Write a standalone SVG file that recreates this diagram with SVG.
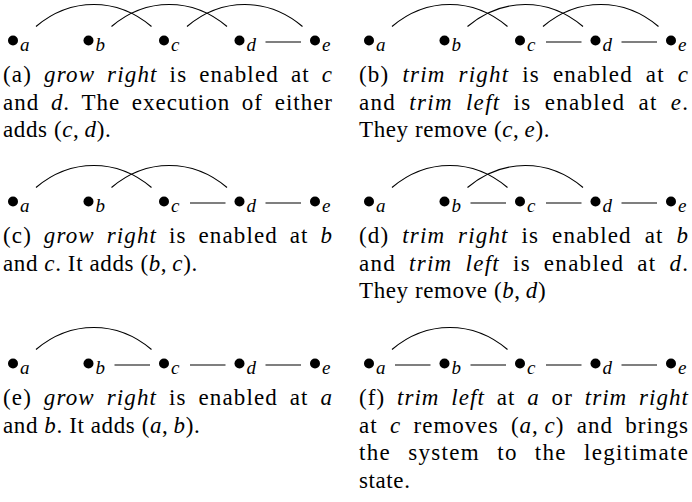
<svg xmlns="http://www.w3.org/2000/svg" width="692" height="502" viewBox="0 0 692 502">
<style>
.dot{fill:#000}
.sub{font-family:"Liberation Serif",serif;font-style:italic;font-size:19px;fill:#000}
.cap{font-family:"Liberation Serif",serif;font-size:23px;fill:#000}
.lst{letter-spacing:0.6px}
.i{font-style:italic}
.e{fill:none;stroke:#000;stroke-width:1.1}
</style>
<defs>
<path id="arcAC" d="M36 -14 C70.6 -43.3 116.9 -43.3 151.5 -14"/>
<path id="arcBD" d="M111.5 -14 C146.1 -43.3 192.4 -43.3 227 -14"/>
<path id="arcCE" d="M187 -14 C221.6 -43.3 267.9 -43.3 302.5 -14"/>
<path id="segAB" d="M39 1.5 H74.5"/>
<path id="segBC" d="M114.5 1.5 H150"/>
<path id="segCD" d="M190 1.5 H225.5"/>
<path id="segDE" d="M265.5 1.5 H301"/>
</defs>

<!-- panel (a) -->
<g id="panel-a" transform="translate(0,40.5)">
<g id="connectors-a" class="e"><use href="#arcAC"/><use href="#arcBD"/><use href="#arcCE"/><use href="#segDE"/></g>
<g id="a-a" transform="translate(13,0)"><circle class="dot" r="5"/><text class="sub" x="7" y="10">a</text></g>
<g id="a-b" transform="translate(88.5,0)"><circle class="dot" r="5"/><text class="sub" x="7" y="10">b</text></g>
<g id="a-c" transform="translate(164,0)"><circle class="dot" r="5"/><text class="sub" x="7" y="10">c</text></g>
<g id="a-d" transform="translate(239.5,0)"><circle class="dot" r="5"/><text class="sub" x="7" y="10">d</text></g>
<g id="a-e" transform="translate(315,0)"><circle class="dot" r="5"/><text class="sub" x="7" y="10">e</text></g>
<text class="cap" x="3" y="41.3" word-spacing="5" textLength="329">(a) <tspan class="i">grow right</tspan> is enabled at <tspan class="i">c</tspan></text>
<text class="cap" x="3" y="69.1" word-spacing="5" textLength="329">and <tspan class="i">d</tspan>. The execution of either</text>
<text class="cap lst" x="3" y="96.9">adds (<tspan class="i">c</tspan>,&#8201;<tspan class="i">d</tspan>).</text>
</g>

<!-- panel (b) -->
<g id="panel-b" transform="translate(356,40.5)">
<g id="connectors-b" class="e"><use href="#arcAC"/><use href="#arcBD"/><use href="#arcCE"/><use href="#segCD"/><use href="#segDE"/></g>
<g id="b-a" transform="translate(13,0)"><circle class="dot" r="5"/><text class="sub" x="7" y="10">a</text></g>
<g id="b-b" transform="translate(88.5,0)"><circle class="dot" r="5"/><text class="sub" x="7" y="10">b</text></g>
<g id="b-c" transform="translate(164,0)"><circle class="dot" r="5"/><text class="sub" x="7" y="10">c</text></g>
<g id="b-d" transform="translate(239.5,0)"><circle class="dot" r="5"/><text class="sub" x="7" y="10">d</text></g>
<g id="b-e" transform="translate(315,0)"><circle class="dot" r="5"/><text class="sub" x="7" y="10">e</text></g>
<text class="cap" x="3" y="41.3" word-spacing="6" textLength="329">(b) <tspan class="i">trim right</tspan> is enabled at <tspan class="i">c</tspan></text>
<text class="cap" x="3" y="69.1" word-spacing="6" textLength="329">and <tspan class="i">trim left</tspan> is enabled at <tspan class="i">e</tspan>.</text>
<text class="cap lst" x="3" y="96.9">They remove (<tspan class="i">c</tspan>,&#8201;<tspan class="i">e</tspan>).</text>
</g>

<!-- panel (c) -->
<g id="panel-c" transform="translate(0,201.5)">
<g id="connectors-c" class="e"><use href="#arcAC"/><use href="#arcBD"/><use href="#segCD"/><use href="#segDE"/></g>
<g id="c-a" transform="translate(13,0)"><circle class="dot" r="5"/><text class="sub" x="7" y="10">a</text></g>
<g id="c-b" transform="translate(88.5,0)"><circle class="dot" r="5"/><text class="sub" x="7" y="10">b</text></g>
<g id="c-c" transform="translate(164,0)"><circle class="dot" r="5"/><text class="sub" x="7" y="10">c</text></g>
<g id="c-d" transform="translate(239.5,0)"><circle class="dot" r="5"/><text class="sub" x="7" y="10">d</text></g>
<g id="c-e" transform="translate(315,0)"><circle class="dot" r="5"/><text class="sub" x="7" y="10">e</text></g>
<text class="cap" x="3" y="41.3" word-spacing="5" textLength="329">(c) <tspan class="i">grow right</tspan> is enabled at <tspan class="i">b</tspan></text>
<text class="cap lst" x="3" y="69.1">and <tspan class="i">c</tspan>. It adds (<tspan class="i">b</tspan>,&#8201;<tspan class="i">c</tspan>).</text>
</g>

<!-- panel (d) -->
<g id="panel-d" transform="translate(356,201.5)">
<g id="connectors-d" class="e"><use href="#arcAC"/><use href="#arcBD"/><use href="#segBC"/><use href="#segCD"/><use href="#segDE"/></g>
<g id="d-a" transform="translate(13,0)"><circle class="dot" r="5"/><text class="sub" x="7" y="10">a</text></g>
<g id="d-b" transform="translate(88.5,0)"><circle class="dot" r="5"/><text class="sub" x="7" y="10">b</text></g>
<g id="d-c" transform="translate(164,0)"><circle class="dot" r="5"/><text class="sub" x="7" y="10">c</text></g>
<g id="d-d" transform="translate(239.5,0)"><circle class="dot" r="5"/><text class="sub" x="7" y="10">d</text></g>
<g id="d-e" transform="translate(315,0)"><circle class="dot" r="5"/><text class="sub" x="7" y="10">e</text></g>
<text class="cap" x="3" y="41.3" word-spacing="6" textLength="329">(d) <tspan class="i">trim right</tspan> is enabled at <tspan class="i">b</tspan></text>
<text class="cap" x="3" y="69.1" word-spacing="6" textLength="329">and <tspan class="i">trim left</tspan> is enabled at <tspan class="i">d</tspan>.</text>
<text class="cap lst" x="3" y="96.9">They remove (<tspan class="i">b</tspan>,&#8201;<tspan class="i">d</tspan>)</text>
</g>

<!-- panel (e) -->
<g id="panel-e" transform="translate(0,363.5)">
<g id="connectors-e" class="e"><use href="#arcAC"/><use href="#segBC"/><use href="#segCD"/><use href="#segDE"/></g>
<g id="e-a" transform="translate(13,0)"><circle class="dot" r="5"/><text class="sub" x="7" y="10">a</text></g>
<g id="e-b" transform="translate(88.5,0)"><circle class="dot" r="5"/><text class="sub" x="7" y="10">b</text></g>
<g id="e-c" transform="translate(164,0)"><circle class="dot" r="5"/><text class="sub" x="7" y="10">c</text></g>
<g id="e-d" transform="translate(239.5,0)"><circle class="dot" r="5"/><text class="sub" x="7" y="10">d</text></g>
<g id="e-e" transform="translate(315,0)"><circle class="dot" r="5"/><text class="sub" x="7" y="10">e</text></g>
<text class="cap" x="3" y="41.3" word-spacing="5" textLength="329">(e) <tspan class="i">grow right</tspan> is enabled at <tspan class="i">a</tspan></text>
<text class="cap lst" x="3" y="69.1">and <tspan class="i">b</tspan>. It adds (<tspan class="i">a</tspan>,&#8201;<tspan class="i">b</tspan>).</text>
</g>

<!-- panel (f) -->
<g id="panel-f" transform="translate(356,363.5)">
<g id="connectors-f" class="e"><use href="#arcAC"/><use href="#segAB"/><use href="#segBC"/><use href="#segCD"/><use href="#segDE"/></g>
<g id="f-a" transform="translate(13,0)"><circle class="dot" r="5"/><text class="sub" x="7" y="10">a</text></g>
<g id="f-b" transform="translate(88.5,0)"><circle class="dot" r="5"/><text class="sub" x="7" y="10">b</text></g>
<g id="f-c" transform="translate(164,0)"><circle class="dot" r="5"/><text class="sub" x="7" y="10">c</text></g>
<g id="f-d" transform="translate(239.5,0)"><circle class="dot" r="5"/><text class="sub" x="7" y="10">d</text></g>
<g id="f-e" transform="translate(315,0)"><circle class="dot" r="5"/><text class="sub" x="7" y="10">e</text></g>
<text class="cap" x="3" y="41.3" word-spacing="5" textLength="329">(f) <tspan class="i">trim left</tspan> at <tspan class="i">a</tspan> or <tspan class="i">trim right</tspan></text>
<text class="cap" x="3" y="69.1" word-spacing="5.5" textLength="329">at <tspan class="i">c</tspan> removes (<tspan class="i">a</tspan>,&#8201;<tspan class="i">c</tspan>) and brings</text>
<text class="cap" x="3" y="96.9" word-spacing="10" textLength="329">the system to the legitimate</text>
<text class="cap lst" x="3" y="124.7">state.</text>
</g>
</svg>
